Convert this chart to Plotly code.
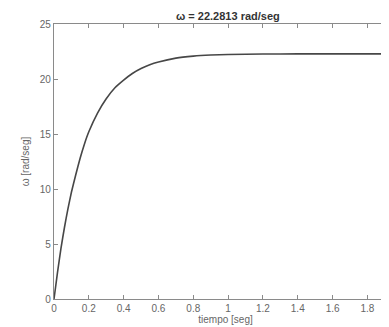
import plotly.graph_objects as go

t_seg = [0, 0.02, 0.04, 0.06, 0.08, 0.1, 0.125, 0.15, 0.175, 0.2, 0.25, 0.3, 0.35,
         0.4, 0.45, 0.5, 0.55, 0.6, 0.7, 0.8, 0.9, 1.0, 1.2, 1.4, 1.6, 1.8, 2.0]
omega = [0, 2.4, 4.6, 6.5, 8.2, 9.7, 11.3, 12.8, 14.1, 15.2, 16.9, 18.2, 19.2,
         19.9, 20.5, 20.95, 21.3, 21.55, 21.9, 22.08, 22.18, 22.23, 22.27, 22.28, 22.28, 22.28, 22.28]

x_ticks = [0, 0.2, 0.4, 0.6, 0.8, 1, 1.2, 1.4, 1.6, 1.8]
x_tick_labels = ["0", "0.2", "0.4", "0.6", "0.8", "1", "1.2", "1.4", "1.6", "1.8"]
y_ticks = [0, 5, 10, 15, 20, 25]

title_text = "<b>ω = 22.2813 rad/seg</b>"

FONT = "Liberation Sans, Arial, sans-serif"

fig = go.Figure()
fig.add_trace(go.Scatter(x=t_seg, y=omega, mode="lines",
                         line=dict(color="#474747", width=1.6, shape="spline", smoothing=0.5),
                         showlegend=False, hoverinfo="skip"))

axis_color = "#8a8a8a"
tick_font = dict(family=FONT, size=10, color="#666666")

fig.update_xaxes(range=[0, 1.97], tickvals=x_ticks, ticktext=x_tick_labels, ticks="inside", ticklen=4,
                 tickcolor=axis_color, showline=True, linecolor=axis_color, linewidth=1.2, mirror="ticks",
                 showgrid=False, zeroline=False, tickfont=tick_font, automargin=False,
                 title=dict(text="tiempo [seg]", font=dict(family=FONT, size=10, color="#666666"), standoff=2))
fig.update_yaxes(range=[0, 25], tickvals=y_ticks, ticks="inside", ticklen=4, tickcolor=axis_color,
                 showline=True, linecolor=axis_color, linewidth=1.2, showgrid=False, zeroline=False,
                 tickfont=tick_font, automargin=False,
                 title=dict(text="ω [rad/seg]", font=dict(family=FONT, size=10, color="#666666"), standoff=8))

fig.add_annotation(x=1, xref="x", y=1, yref="paper", yanchor="bottom", text=title_text, showarrow=False,
                   font=dict(family=FONT, size=11, color="#333333"), yshift=0)

fig.update_layout(width=389, height=327, margin=dict(l=46, r=0, t=16, b=36, pad=0),
                  paper_bgcolor="white", plot_bgcolor="white")

fig.write_html("out.html")
